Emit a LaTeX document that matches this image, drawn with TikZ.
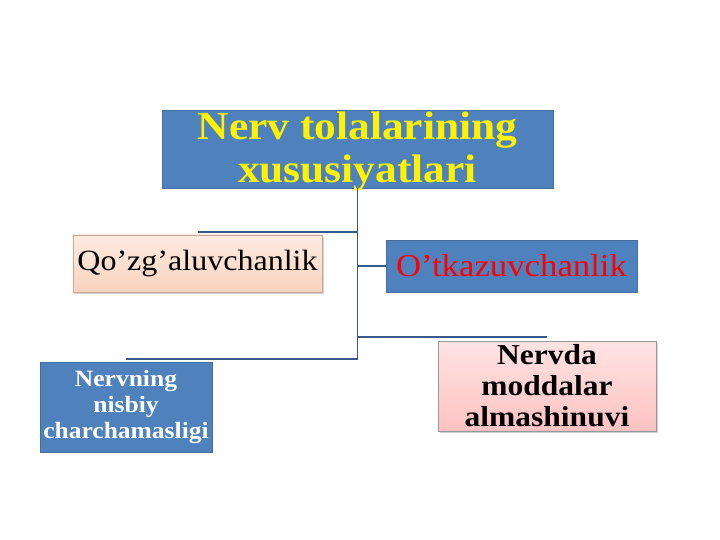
\documentclass[tikz,border=0pt]{standalone}
\usepackage{fontspec}
\setmainfont[FakeStretch=1.09]{Liberation Serif}
\usetikzlibrary{shadows}
\definecolor{boxblue}{HTML}{4F81BD}
\definecolor{linkblue}{HTML}{3A5A8C}
\definecolor{peachtop}{HTML}{FDEBE1}
\definecolor{peachbot}{HTML}{FAD3BE}
\definecolor{pinktop}{HTML}{FFE3E3}
\definecolor{pinkbot}{HTML}{FFC2C2}
\tikzset{link/.style={draw=linkblue,line width=1.8bp},
         bluebox/.style={fill=boxblue,draw=boxblue!85!black,line width=0.6bp,inner sep=0pt,align=center},
         peachbox/.style={top color=peachtop,bottom color=peachbot,draw=peachbot!80!black,line width=0.6bp,
                          inner sep=0pt,align=center,drop shadow={shadow xshift=1.5bp,shadow yshift=-2bp,opacity=0.35}},
         pinkbox/.style={top color=pinktop,bottom color=pinkbot,draw=black!40,line width=0.6bp,
                         inner sep=0pt,align=center,drop shadow={shadow xshift=1.5bp,shadow yshift=-2bp,opacity=0.35}}
}

\begin{document}
\begin{tikzpicture}[x=1bp,y=-1bp]
  \useasboundingbox (0,0) rectangle (720,540);
  % top box
  \node[bluebox,minimum width=391bp,minimum height=78bp,text=yellow,text height=72bp,text depth=4bp,
        font=\fontsize{40}{44}\selectfont\bfseries] (title) at (357.5,149) {Nerv tolalarining\\xususiyatlari};
  % branches
  \node[peachbox,minimum width=249bp,minimum height=57bp,
        font=\fontsize{29.5}{32}\selectfont] (qoz) at (197.5,263.5) {Qo’zg’aluvchanlik};
  \node[bluebox,minimum width=251bp,minimum height=52bp,text=red,
        font=\fontsize{32}{34}\selectfont] (otk) at (511.5,266) {O’tkazuvchanlik};
  \node[bluebox,minimum width=172bp,minimum height=90bp,text=white,
        font=\fontsize{23.5}{26}\selectfont\bfseries] (charch) at (126,407) {Nervning\\nisbiy\\charchamasligi};
  \node[pinkbox,minimum width=218bp,minimum height=90bp,
        font=\fontsize{29}{31}\selectfont\bfseries] (modda) at (547,386) {Nervda\\moddalar\\almashinuvi};
  % connectors
  \draw[link] (title.south) -- ([yshift=3bp]title.south |- charch.north);
  \draw[link] ([yshift=3bp]qoz.north) -- ([yshift=3bp]qoz.north -| title.south);
  \draw[link] (otk.west) -- (otk.west -| title.south);
  \draw[link] ([yshift=4bp]modda.north) -- ([yshift=4bp]modda.north -| title.south);
  \draw[link] ([yshift=3bp]charch.north) -- ([yshift=3bp]charch.north -| title.south);
\end{tikzpicture}
\end{document}
